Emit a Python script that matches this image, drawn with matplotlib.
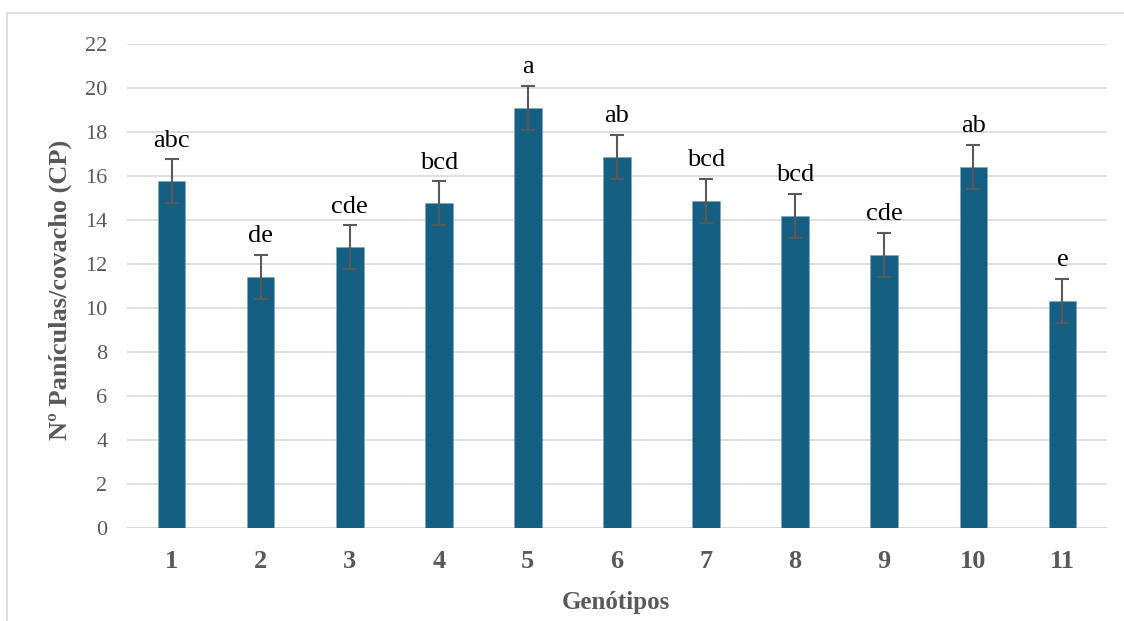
import matplotlib.pyplot as plt
from matplotlib.patches import Rectangle
import numpy as np

genotipos = ['1', '2', '3', '4', '5', '6', '7', '8', '9', '10', '11']
paniculas = [15.77, 11.43, 12.77, 14.77, 19.1, 16.87, 14.88, 14.2, 12.43, 16.43, 10.33]
erro = [1.0, 1.0, 1.0, 1.0, 1.0, 1.0, 1.0, 1.0, 1.0, 1.0, 1.0]
letras = ['abc', 'de', 'cde', 'bcd', 'a', 'ab', 'bcd', 'bcd', 'cde', 'ab', 'e']

serif = ['Liberation Serif', 'DejaVu Serif']
plt.rcParams['font.family'] = serif

W, H = 1124, 621
fig = plt.figure(figsize=(W / 100, H / 100), dpi=100)
ax = fig.add_axes([127 / W, (H - 528) / H, (1107 - 127) / W, (528 - 44) / H])

# moldura cinzenta da área do gráfico
fig.patches.append(Rectangle((7 / W, -0.1), 1.2, 1.1 - 13 / H, transform=fig.transFigure,
                             fill=False, edgecolor='#d9d9d9', linewidth=1.2))

x = np.arange(len(genotipos))
ax.bar(x, paniculas, width=0.31, color='#156082', edgecolor='#7fa6bd', linewidth=0.4,
       zorder=3)
ax.errorbar(x, paniculas, yerr=erro, fmt='none', ecolor='#595959', elinewidth=1.5,
            capsize=5, capthick=1.5, zorder=4)

for xi, v, e, t in zip(x, paniculas, erro, letras):
    ax.annotate(t, (xi, v + e), xytext=(0, 9), textcoords='offset points',
                ha='center', va='baseline', fontsize=19, color='black', family=serif)

ax.set_xlim(-0.5, len(genotipos) - 0.5)
ax.set_ylim(0, 22)
ax.set_yticks(np.arange(0, 23, 2))
ax.set_xticks(x)
ax.set_xticklabels(genotipos, fontweight='bold')
ax.grid(axis='y', color='#d9d9d9', linewidth=1.2, zorder=0)
ax.set_axisbelow(True)
for s in ax.spines.values():
    s.set_visible(False)
ax.axhline(0, color='#d9d9d9', linewidth=1.2, zorder=1)
ax.tick_params(axis='y', length=0, pad=14, labelsize=16, labelcolor='#595959')
ax.tick_params(axis='x', length=0, pad=16, labelsize=19, labelcolor='#595959')

fig.text(60 / W, 1 - 290 / H, 'Nº Panículas/covacho (CP)', rotation=90, ha='center',
         va='center', fontsize=19, fontweight='bold', color='#595959')
fig.text(616 / W, 1 - 602 / H, 'Genótipos', ha='center', va='center', fontsize=18,
         fontweight='bold', color='#595959')

fig.savefig('out.png', dpi=100)
